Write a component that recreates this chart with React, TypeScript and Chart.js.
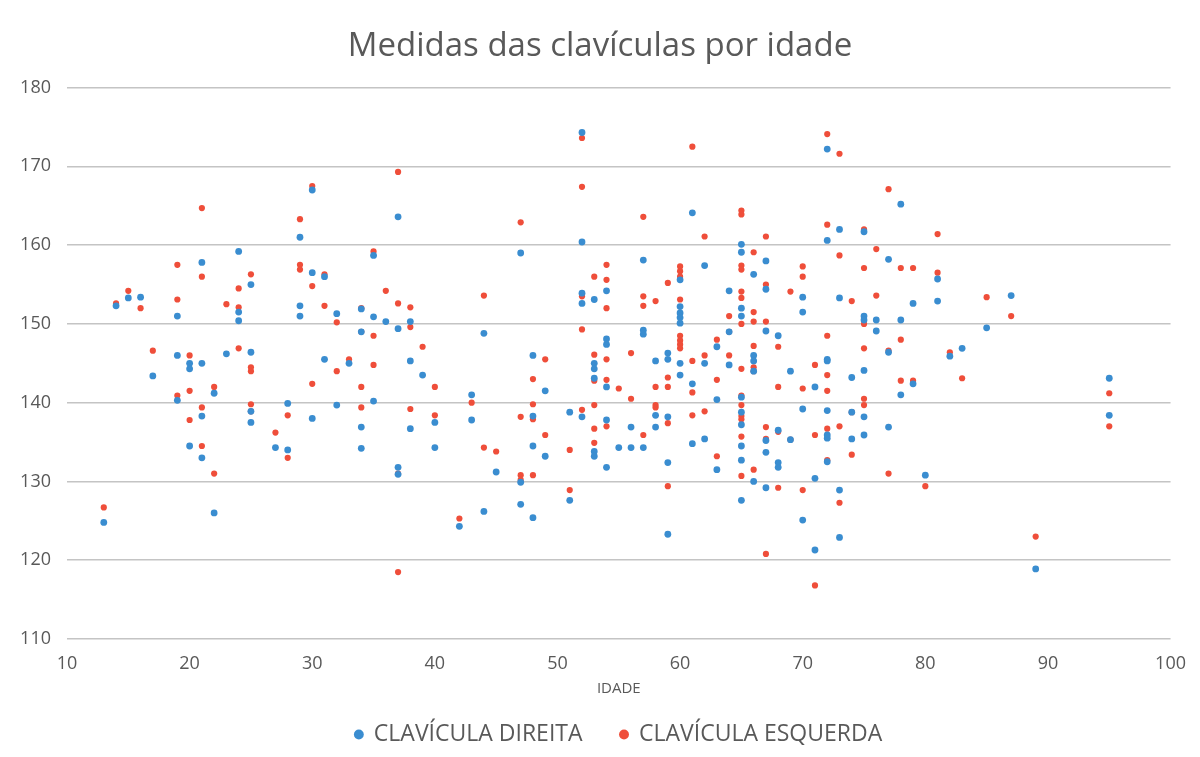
import React, { useEffect, useRef } from "react";
import { Chart, registerables } from "chart.js";

Chart.register(...registerables);

const TITLE = "Medidas das clavículas por idade";
const X_TITLE = "IDADE";
const SERIES_NAMES = ["CLAVÍCULA DIREITA", "CLAVÍCULA ESQUERDA"];

// CLAVÍCULA DIREITA
const idadeDireita = [
  13,
  14,
  15,
  16,
  17,
  19, 19, 19,
  20, 20, 20,
  21, 21, 21, 21,
  22, 22,
  23,
  24, 24, 24,
  25, 25, 25, 25,
  27,
  28, 28,
  29, 29, 29,
  30, 30, 30,
  31, 31,
  32, 32,
  33,
  34, 34, 34, 34,
  35, 35, 35,
  36,
  37, 37, 37, 37,
  38, 38, 38,
  39,
  40, 40,
  42,
  43, 43,
  44, 44,
  45,
  47, 47, 47,
  48, 48, 48, 48,
  49, 49,
  51, 51,
  52, 52, 52, 52, 52,
  53, 53, 53, 53, 53, 53,
  54, 54, 54, 54, 54, 54,
  55,
  56, 56,
  57, 57, 57, 57,
  58, 58, 58,
  59, 59, 59, 59, 59,
  60, 60, 60, 60, 60, 60, 60,
  61, 61, 61,
  62, 62, 62,
  63, 63, 63,
  64, 64, 64,
  65, 65, 65, 65, 65, 65, 65, 65, 65, 65,
  66, 66, 66, 66, 66,
  67, 67, 67, 67, 67, 67,
  68, 68, 68, 68,
  69, 69,
  70, 70, 70, 70,
  71, 71, 71,
  72, 72, 72, 72, 72, 72, 72, 72,
  73, 73, 73, 73,
  74, 74, 74,
  75, 75, 75, 75, 75, 75,
  76, 76,
  77, 77, 77,
  78, 78, 78,
  79, 79,
  80,
  81, 81,
  82,
  83,
  85,
  87,
  89,
  95, 95,
];
const valorDireita = [
  124.8,
  152.3,
  153.3,
  153.4,
  143.4,
  151.0, 146.0, 140.3,
  145.0, 144.3, 134.5,
  157.8, 145.0, 138.3, 133.0,
  141.2, 126.0,
  146.2,
  159.2, 151.5, 150.4,
  155.0, 146.4, 138.9, 137.5,
  134.3,
  139.9, 134.0,
  161.0, 152.3, 151.0,
  167.0, 156.5, 138.0,
  156.0, 145.5,
  151.3, 139.7,
  145.0,
  151.9, 149.0, 136.9, 134.2,
  158.7, 150.9, 140.2,
  150.3,
  163.6, 149.4, 131.8, 130.9,
  150.3, 145.3, 136.7,
  143.5,
  137.5, 134.3,
  124.3,
  141.0, 137.8,
  148.8, 126.2,
  131.2,
  159.0, 129.9, 127.1,
  146.0, 138.3, 134.5, 125.4,
  141.5, 133.2,
  138.8, 127.6,
  174.3, 160.4, 153.9, 152.6, 138.2,
  153.1, 145.0, 144.3, 143.1, 133.8, 133.2,
  154.2, 148.1, 147.4, 142.0, 137.8, 131.8,
  134.3,
  136.9, 134.3,
  158.1, 149.2, 148.7, 134.3,
  145.3, 138.4, 136.9,
  146.3, 145.5, 138.2, 132.4, 123.3,
  155.6, 152.2, 151.4, 150.8, 150.1, 145.0, 143.5,
  164.1, 142.4, 134.8,
  157.4, 145.0, 135.4,
  147.1, 140.4, 131.5,
  154.2, 149.0, 144.8,
  160.1, 159.1, 152.0, 151.0, 140.7, 138.8, 137.2, 134.5, 132.7, 127.6,
  156.3, 146.0, 145.3, 144.0, 130.0,
  158.0, 154.4, 149.1, 135.2, 133.7, 129.2,
  148.5, 136.5, 132.4, 131.8,
  144.0, 135.3,
  153.4, 151.5, 139.2, 125.1,
  142.0, 130.4, 121.3,
  172.2, 160.6, 145.5, 145.3, 139.0, 135.9, 135.5, 132.5,
  162.0, 153.3, 128.9, 122.9,
  143.2, 138.8, 135.4,
  161.7, 151.0, 150.5, 144.1, 138.2, 135.9,
  150.5, 149.1,
  158.2, 146.4, 136.9,
  165.2, 150.5, 141.0,
  152.6, 142.4,
  130.8,
  155.7, 152.9,
  145.9,
  146.9,
  149.5,
  153.6,
  118.9,
  143.1, 138.4,
];

// CLAVÍCULA ESQUERDA
const idadeEsquerda = [
  13,
  14,
  15,
  16,
  17,
  19, 19, 19,
  20, 20, 20,
  21, 21, 21, 21,
  22, 22,
  23,
  24, 24, 24,
  25, 25, 25, 25, 25,
  27,
  28, 28,
  29, 29, 29,
  30, 30, 30,
  31, 31,
  32, 32,
  33,
  34, 34, 34, 34,
  35, 35, 35,
  36,
  37, 37, 37, 37,
  38, 38, 38,
  39,
  40, 40,
  42,
  43,
  44, 44,
  45,
  47, 47, 47, 47,
  48, 48, 48, 48,
  49, 49,
  51, 51,
  52, 52, 52, 52, 52,
  53, 53, 53, 53, 53, 53,
  54, 54, 54, 54, 54, 54,
  55,
  56, 56,
  57, 57, 57, 57,
  58, 58, 58, 58,
  59, 59, 59, 59, 59,
  60, 60, 60, 60, 60, 60, 60, 60,
  61, 61, 61, 61,
  62, 62, 62,
  63, 63, 63,
  64, 64, 64,
  65, 65, 65, 65, 65, 65, 65, 65, 65, 65, 65, 65, 65, 65,
  66, 66, 66, 66, 66, 66, 66,
  67, 67, 67, 67, 67, 67,
  68, 68, 68, 68,
  69, 69,
  70, 70, 70, 70,
  71, 71, 71,
  72, 72, 72, 72, 72, 72, 72,
  73, 73, 73, 73,
  74, 74, 74,
  75, 75, 75, 75, 75, 75,
  76, 76,
  77, 77, 77,
  78, 78, 78,
  79, 79,
  80,
  81, 81,
  82,
  83,
  85,
  87,
  89,
  95, 95,
];
const valorEsquerda = [
  126.7,
  152.6,
  154.2,
  152.0,
  146.6,
  157.5, 153.1, 140.9,
  146.0, 141.5, 137.8,
  164.7, 156.0, 139.4, 134.5,
  142.0, 131.0,
  152.5,
  154.5, 152.1, 146.9,
  156.3, 144.5, 144.0, 139.8, 138.9,
  136.2,
  138.4, 133.0,
  163.3, 157.5, 156.9,
  167.5, 154.8, 142.4,
  156.3, 152.3,
  150.2, 144.0,
  145.5,
  152.0, 149.0, 142.0, 139.4,
  159.2, 148.5, 144.8,
  154.2,
  169.3, 152.6, 131.0, 118.5,
  152.1, 149.6, 139.2,
  147.1,
  142.0, 138.4,
  125.3,
  140.0,
  153.6, 134.3,
  133.8,
  162.9, 138.2, 130.8, 130.2,
  143.0, 139.8, 137.9, 130.8,
  145.5, 135.9,
  134.0, 128.9,
  173.6, 167.4, 153.5, 149.3, 139.1,
  156.0, 146.1, 142.8, 139.7, 136.7, 134.9,
  157.5, 155.6, 152.0, 145.5, 142.9, 137.0,
  141.8,
  146.3, 140.5,
  163.6, 153.5, 152.3, 135.9,
  152.9, 142.0, 139.7, 139.4,
  155.2, 143.2, 142.0, 137.4, 129.4,
  157.3, 156.7, 156.0, 153.1, 148.5, 147.9, 147.4, 146.9,
  172.5, 145.3, 141.3, 138.4,
  161.1, 146.0, 138.9,
  148.0, 142.9, 133.2,
  151.0, 149.0, 146.0,
  164.4, 163.9, 157.4, 156.9, 154.1, 153.3, 150.0, 144.3, 140.9, 139.7, 138.3, 137.9, 135.7, 130.7,
  159.1, 151.5, 150.3, 147.2, 144.5, 144.0, 131.5,
  161.1, 155.0, 150.3, 136.9, 135.4, 120.8,
  147.1, 142.0, 136.3, 129.2,
  154.1, 135.3,
  157.3, 156.0, 141.8, 128.9,
  144.8, 135.9, 116.8,
  174.1, 162.6, 148.5, 143.5, 141.5, 136.7, 132.7,
  171.6, 158.7, 137.0, 127.3,
  152.9, 138.8, 133.4,
  162.0, 157.1, 150.0, 146.9, 140.5, 139.7,
  159.5, 153.6,
  167.1, 146.6, 131.0,
  157.1, 148.0, 142.8,
  157.1, 142.8,
  129.4,
  161.4, 156.5,
  146.4,
  143.1,
  153.4,
  151.0,
  123.0,
  141.2, 137.0,
];

const X_TICKS = [10, 20, 30, 40, 50, 60, 70, 80, 90, 100];
const Y_TICKS = [110, 120, 130, 140, 150, 160, 170, 180];

const BLUE = "#3A8DD0";
const RED = "#EF4E3A";
const TEXT = "#595959";
const FONT = "'Open Sans', 'Noto Sans', sans-serif";

export default function App() {
  const ref = useRef<HTMLCanvasElement | null>(null);

  useEffect(() => {
    if (!ref.current) return;
    const toPts = (xs: number[], ys: number[]) => xs.map((x, i) => ({ x, y: ys[i] }));
    const chart = new Chart(ref.current, {
      type: "scatter",
      data: {
        datasets: [
          {
            label: SERIES_NAMES[0],
            data: toPts(idadeDireita, valorDireita),
            backgroundColor: BLUE,
            borderColor: BLUE,
            borderWidth: 0,
            pointRadius: 3.4,
            pointStyle: "circle",
          },
          {
            label: SERIES_NAMES[1],
            data: toPts(idadeEsquerda, valorEsquerda),
            backgroundColor: RED,
            borderColor: RED,
            borderWidth: 0,
            pointRadius: 3.1,
            pointStyle: "circle",
          },
        ],
      },
      options: {
        responsive: true,
        maintainAspectRatio: false,
        animation: false,
        layout: { padding: { left: 0, right: 0, top: 0, bottom: 1 } },
        plugins: {
          title: {
            display: true,
            text: TITLE,
            color: TEXT,
            font: { family: FONT, size: 33, weight: "normal" },
            padding: { top: 27, bottom: 21 },
          },
          legend: {
            position: "bottom",
            fullSize: false,
            labels: {
              usePointStyle: true,
              pointStyle: "circle",
              boxWidth: 7,
              boxHeight: 7,
              color: TEXT,
              font: { family: FONT, size: 23 },
              padding: 38,
            },
          },
          tooltip: { enabled: false },
        },
        scales: {
          x: {
            type: "linear",
            min: X_TICKS[0],
            max: X_TICKS[X_TICKS.length - 1],
            afterBuildTicks: (s: any) => {
              s.ticks = X_TICKS.map((v) => ({ value: v }));
            },
            afterFit: (s: any) => {
              s.height = 46;
            },
            ticks: { color: TEXT, font: { family: FONT, size: 18 }, padding: 14 },
            grid: { display: false, drawTicks: false },
            border: { display: false },
            title: {
              display: true,
              text: X_TITLE,
              color: TEXT,
              font: { family: FONT, size: 15 },
              padding: { top: 0, bottom: -13 },
            },
          },
          y: {
            type: "linear",
            min: Y_TICKS[0],
            max: Y_TICKS[Y_TICKS.length - 1],
            afterBuildTicks: (s: any) => {
              s.ticks = Y_TICKS.map((v) => ({ value: v }));
            },
            afterFit: (s: any) => {
              s.width = 67;
            },
            ticks: { color: TEXT, font: { family: FONT, size: 18 }, padding: 16 },
            grid: { color: "#C4C4C4", lineWidth: 1.5, drawTicks: false },
            border: { display: false },
          },
          yRightSpace: {
            type: "linear",
            position: "right",
            display: true,
            min: Y_TICKS[0],
            max: Y_TICKS[Y_TICKS.length - 1],
            afterFit: (s: any) => {
              s.width = 23;
            },
            ticks: { display: false },
            grid: { display: false, drawTicks: false },
            border: { display: false },
          },
        },
      },
    });
    return () => chart.destroy();
  }, []);

  return (
    <div style={{ position: "absolute", left: 0, top: 0, width: 1200, height: 757, background: "#fff" }}>
      <canvas ref={ref} />
    </div>
  );
}
